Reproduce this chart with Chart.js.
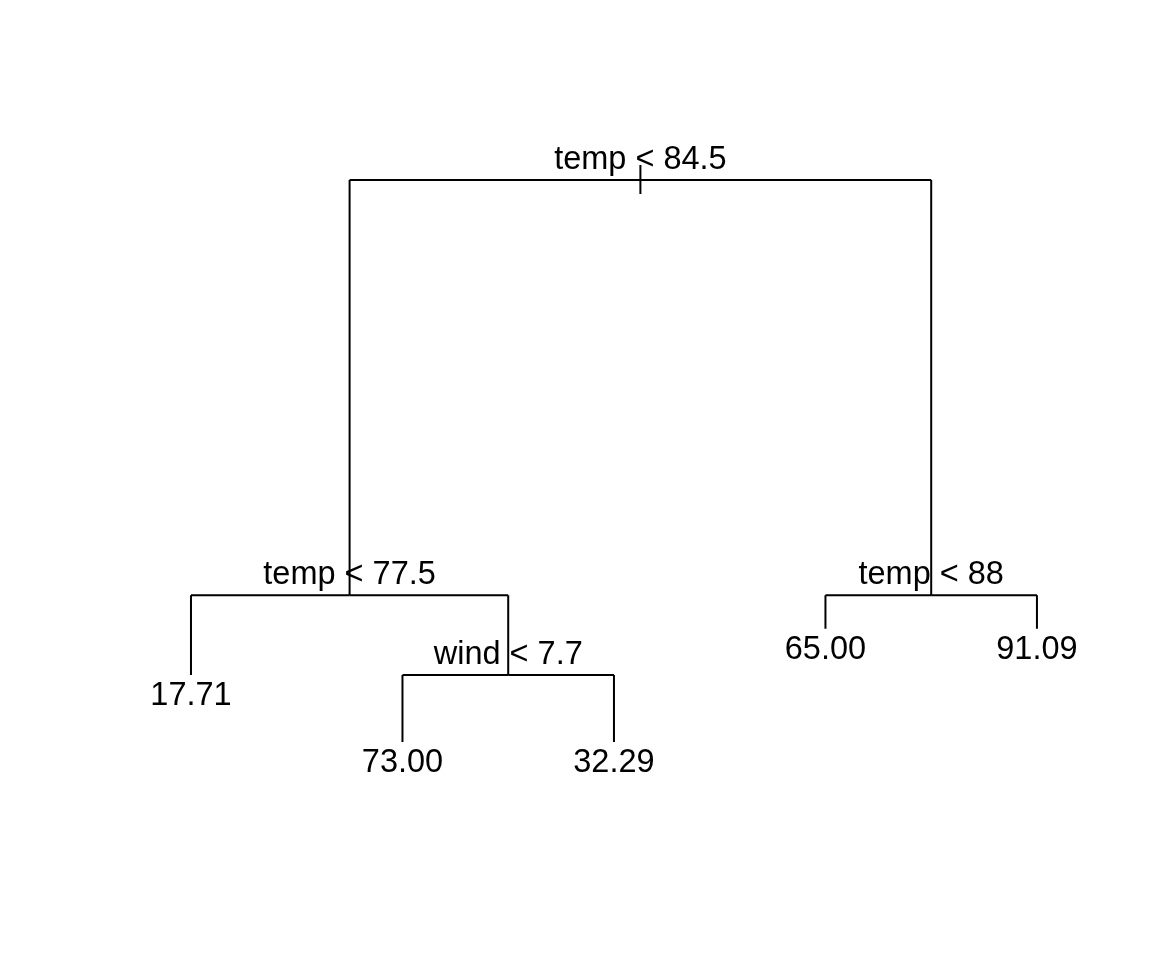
<!DOCTYPE html>
<html>
<head>
<meta charset="utf-8">
<script src="https://cdn.jsdelivr.net/npm/chart.js@4"></script>
<style>
  html, body { margin: 0; padding: 0; background: #ffffff; }
  #arbol { display: block; }
</style>
</head>
<body>
<canvas id="arbol" width="1152" height="960"></canvas>
<script>
// Nodes of the regression tree (pre-order)
const nodeLabels = ['temp < 84.5', 'temp < 77.5', '17.71', 'wind < 7.7', '73.00', '32.29', 'temp < 88', '65.00', '91.09'];
const nodeX      = [3.125, 1.75, 1, 2.5, 2, 3, 4.5, 4, 5];
const nodeY      = [81.25, 38.0, 29.7, 29.7, 22.7, 22.7, 38.0, 34.5, 34.5];
const parentOf   = [-1, 0, 1, 1, 3, 3, 0, 6, 6];
// little stem through the root node
const rootStem   = [82.8, 79.8];

// one dataset per segment: horizontal bar under each split + vertical branch to each child
const segmentos = [];
nodeX.forEach((x, i) => {
  const p = parentOf[i];
  if (p < 0) {
    segmentos.push([{ x: x, y: rootStem[0] }, { x: x, y: rootStem[1] }]);
    return;
  }
  segmentos.push([{ x: nodeX[p], y: nodeY[p] }, { x: x, y: nodeY[p] }]);
  segmentos.push([{ x: x, y: nodeY[p] }, { x: x, y: nodeY[i] }]);
});

const esHoja = i => !parentOf.includes(i);

// writes split rules above each split and fitted values under the leaves
const etiquetas = {
  id: 'etiquetas',
  afterDatasetsDraw(chart) {
    const { ctx, scales } = chart;
    ctx.save();
    ctx.fillStyle = '#000000';
    ctx.font = '32.5px "Liberation Sans", Arial, sans-serif';
    ctx.textAlign = 'center';
    ctx.textBaseline = 'alphabetic';
    nodeLabels.forEach((txt, i) => {
      const px = scales.x.getPixelForValue(nodeX[i]);
      const py = scales.y.getPixelForValue(nodeY[i]);
      ctx.fillText(txt, px, esHoja(i) ? py + 30 : py - 11);
    });
    ctx.restore();
  }
};

const grafico = new Chart(document.getElementById('arbol').getContext('2d'), {
  type: 'scatter',
  data: {
    datasets: segmentos.map(seg => ({
      data: seg,
      showLine: true,
      borderColor: '#000000',
      borderWidth: 2,
      pointRadius: 0,
      borderCapStyle: 'butt'
    }))
  },
  options: {
    responsive: false,
    animation: false,
    layout: { padding: 0 },
    scales: {
      x: { type: 'linear', display: false, min: 0.097, max: 5.544 },
      y: { type: 'linear', display: false, min: 0, max: 100 }
    },
    plugins: {
      legend: { display: false },
      tooltip: { enabled: false }
    }
  },
  plugins: [etiquetas]
});
</script>
</body>
</html>
